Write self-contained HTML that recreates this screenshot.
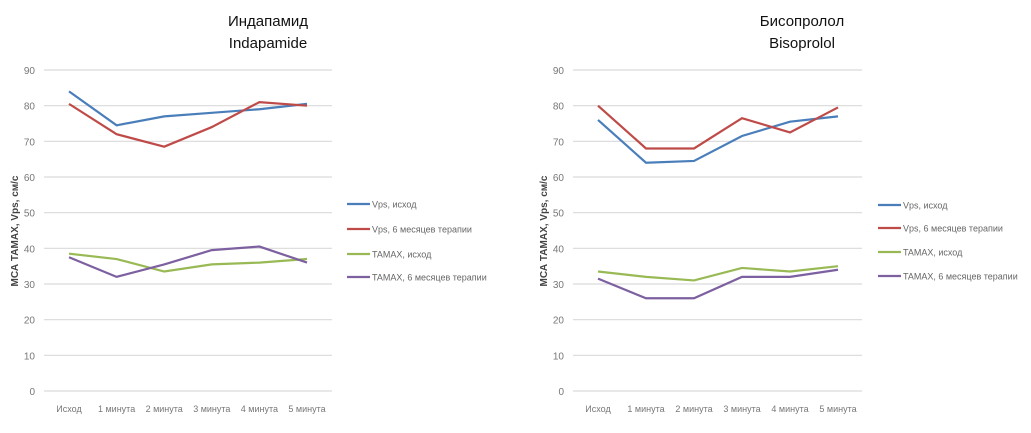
<!DOCTYPE html>
<html><head><meta charset="utf-8"><style>
body{margin:0;background:#fff;}
svg{display:block;font-family:"Liberation Sans","DejaVu Sans",sans-serif;}
</style></head><body>
<svg id="c" width="1031" height="433"></svg>
<script>
const categories=["Исход","1 минута","2 минута","3 минута","4 минута","5 минута"];
const yTicks=[0,10,20,30,40,50,60,70,80,90];
const seriesNames=["Vps, исход","Vps, 6 месяцев  терапии","TAMAX, исход","TAMAX, 6 месяцев  терапии"];
const colors=["#4a7ebb","#be4b48","#98b954","#7d60a0"];
const indVpsBase=[84,74.5,77,78,79,80.5];
const indVps6=[80.5,72,68.5,74,81,80];
const indTamaxBase=[38.5,37,33.5,35.5,36,37];
const indTamax6=[37.5,32,35.5,39.5,40.5,36];
const bisVpsBase=[76,64,64.5,71.5,75.5,77];
const bisVps6=[80,68,68,76.5,72.5,79.5];
const bisTamaxBase=[33.5,32,31,34.5,33.5,35];
const bisTamax6=[31.5,26,26,32,32,34];
const NS="http://www.w3.org/2000/svg";
const svg=document.getElementById('c');
function el(t,a,p){const e=document.createElementNS(NS,t);for(const k in a)e.setAttribute(k,a[k]);(p||svg).appendChild(e);return e;}
function chart(cfg,name,series){
  const g=el('g',{});
  
  
  const y=v=>391-(v/90)*321;
  const x=i=>cfg.x0+i*cfg.dx;
  yTicks.forEach(v=>{
    const l=el('line',{x1:cfg.gl,x2:cfg.gr,y1:y(v),y2:y(v),stroke:'#d9d9d9','stroke-width':1.2},g);
    
    
    const t=el('text',{x:cfg.gl-9,y:y(v)+4,'text-anchor':'end','font-size':10,fill:'#777'},g);
    t.textContent=v;
    
    
  });
  categories.forEach((c,i)=>{
    const t=el('text',{x:x(i),y:412,'text-anchor':'middle','font-size':9,fill:'#777'},g);
    t.textContent=c;
    
    
  });
  const yt=el('text',{x:0,y:0,transform:`translate(${cfg.yt},231) rotate(-90)`,'text-anchor':'middle','font-size':10,'font-weight':'bold',fill:'#444'},g);
  yt.textContent='МСА ТАМАХ, Vps, см/с';
  
  
  series.forEach((s,k)=>{
    const p=el('polyline',{points:s.map((v,i)=>x(i)+','+y(v)).join(' '),fill:'none',stroke:colors[k],'stroke-width':2.2},g);
    
    
    const ly=cfg.ly[k];
    const ll=el('line',{x1:cfg.lx,x2:cfg.lx+23,y1:ly,y2:ly,stroke:colors[k],'stroke-width':2.2},g);
    
    
    const lt=el('text',{x:cfg.lx+25,y:ly+3.5,'font-size':9,fill:'#666'},g);
    lt.textContent=seriesNames[k];
    
    
  });
  cfg.title.forEach((s,i)=>{
    const t=el('text',{x:cfg.tx,y:26+i*22,'text-anchor':'middle','font-size':15,fill:'#111'},g);
    t.textContent=s;
    
    
  });
}
chart({gl:44,gr:332,x0:69,dx:47.6,yt:18,lx:347,ly:[204,229,254,277],tx:268,title:["Индапамид","Indapamide"]},'indapamide-chart',[indVpsBase,indVps6,indTamaxBase,indTamax6]);
chart({gl:573,gr:862,x0:598,dx:48,yt:547,lx:878,ly:[205,228,252,276],tx:802,title:["Бисопролол","Bisoprolol"]},'bisoprolol-chart',[bisVpsBase,bisVps6,bisTamaxBase,bisTamax6]);
</script>
</body></html>
